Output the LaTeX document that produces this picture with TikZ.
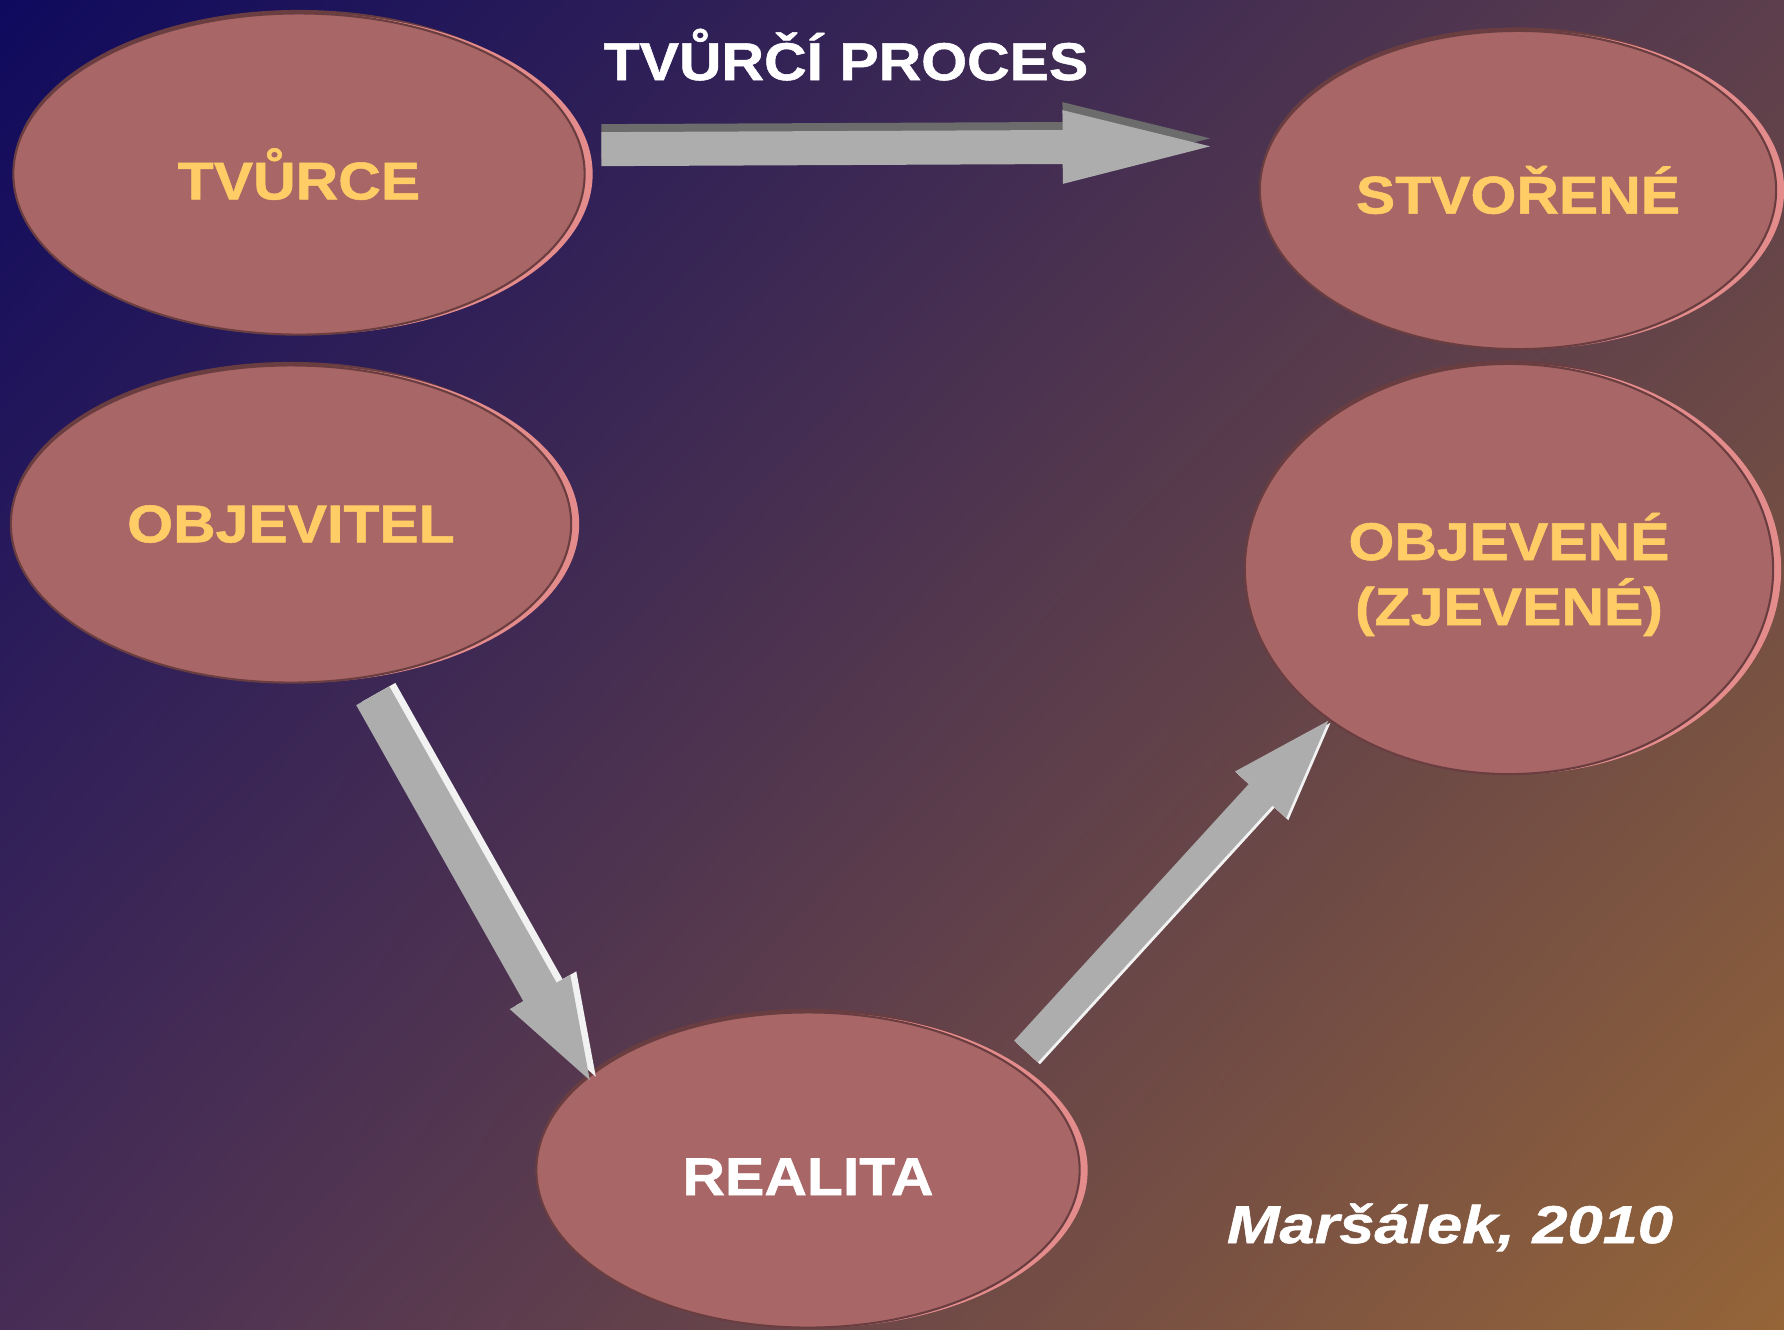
\documentclass[tikz,border=0pt]{standalone}
\usepackage{fontspec}
\setmainfont{Liberation Sans}
\newfontfamily\widefont[FakeStretch=1.11,BoldFeatures={FakeBold=1}]{Liberation Sans}
\newfontfamily\signfont[FakeStretch=1.19,BoldItalicFeatures={FakeBold=1}]{Liberation Sans}
\usetikzlibrary{shapes.geometric,arrows.meta,shadings}
\definecolor{bgnavy}{HTML}{0F0A5E}
\definecolor{bgplum}{HTML}{5C3E4C}
\definecolor{bgviolet}{HTML}{472D56}
\definecolor{bgbrown}{HTML}{956538}
\definecolor{blobfill}{HTML}{A86666}
\definecolor{blobrim}{HTML}{E48C8C}
\definecolor{blobline}{HTML}{6A3E40}
\definecolor{labelyellow}{HTML}{FFCC66}
\definecolor{arrowgray}{HTML}{ADADAD}
\definecolor{arrowdark}{HTML}{6C6C6C}
\definecolor{arrowlight}{HTML}{F2F2F2}
\begin{document}
\begin{tikzpicture}[x=0.01cm,y=-0.01cm,
  blob/.style={ellipse,inner sep=0pt,fill=blobfill,draw=blobline,line width=0.6pt,
    preaction={fill=blobline,transform canvas={yshift=0.035cm}},
    preaction={fill=blobrim,transform canvas={xshift=0.08cm}},
    text=labelyellow,align=center,font=\widefont\bfseries\fontsize{15.1}{18.5}\selectfont},
  blockarrow/.style={draw=arrowgray,line width=#1}]
\useasboundingbox (0,0) rectangle (1784,1329);
\clip (0,0) rectangle (1784,1329);
\shade[upper left=bgnavy,upper right=bgplum,lower left=bgviolet,lower right=bgbrown]
  (0,0) rectangle (1784,1329);
%
\node[blob,minimum width=5.71cm,minimum height=3.21cm] (tvurce) at (299,174) {TVŮRCE};
\node[blob,minimum width=5.16cm,minimum height=3.18cm] (stvorene) at (1518,190) {STVOŘENÉ};
\node[blob,minimum width=5.60cm,minimum height=3.17cm] (objevitel) at (291,524) {OBJEVITEL};
\node[blob,minimum width=5.28cm,minimum height=4.10cm,text depth=0pt] (objevene) at (1509,569) {OBJEVENÉ\\(ZJEVENÉ)};
\node[blob,minimum width=5.43cm,minimum height=3.15cm,text=white,text height=0.5cm] (realita) at (808,1170) {REALITA};
%
\node[anchor=base,text=white,font=\widefont\bfseries\fontsize{15.1}{18}\selectfont] (proces) at (846,80) {TVŮRČÍ PROCES};
\node[anchor=base,text=white,font=\signfont\bfseries\itshape\fontsize{15.1}{18}\selectfont] (autor) at (1450,1243) {Maršálek, 2010};
%
\draw[blockarrow=0.34cm,draw=arrowdark,transform canvas={yshift=0.08cm},shorten <=0.19cm,shorten >=0.28cm,
  -{Triangle[width=0.61cm,length=1.78cm]}] (tvurce.5.6) -- (stvorene.170.2);
\draw[blockarrow=0.34cm,shorten <=0.19cm,shorten >=0.28cm,
  -{Triangle[width=0.61cm,length=1.78cm]}] (tvurce.5.6) -- (stvorene.170.2);
%
\draw[blockarrow=0.38cm,draw=arrowlight,transform canvas={xshift=0.06cm,yshift=0.035cm},shorten <=0.2cm,shorten >=-0.2cm,
  -{Triangle[width=0.58cm,length=1.17cm]}] (objevitel.-65) -- (realita.157);
\draw[blockarrow=0.38cm,shorten <=0.2cm,shorten >=-0.2cm,
  -{Triangle[width=0.58cm,length=1.17cm]}] (objevitel.-65) -- (realita.157);
%
\draw[blockarrow=0.32cm,draw=arrowlight,transform canvas={xshift=0.022cm,yshift=-0.02cm},shorten <=0.19cm,shorten >=-0.14cm,
  -{Triangle[width=0.58cm,length=1.15cm]}] (realita.27) -- (objevene.220);
\draw[blockarrow=0.32cm,shorten <=0.19cm,shorten >=-0.14cm,
  -{Triangle[width=0.58cm,length=1.15cm]}] (realita.27) -- (objevene.220);
\end{tikzpicture}
\end{document}
